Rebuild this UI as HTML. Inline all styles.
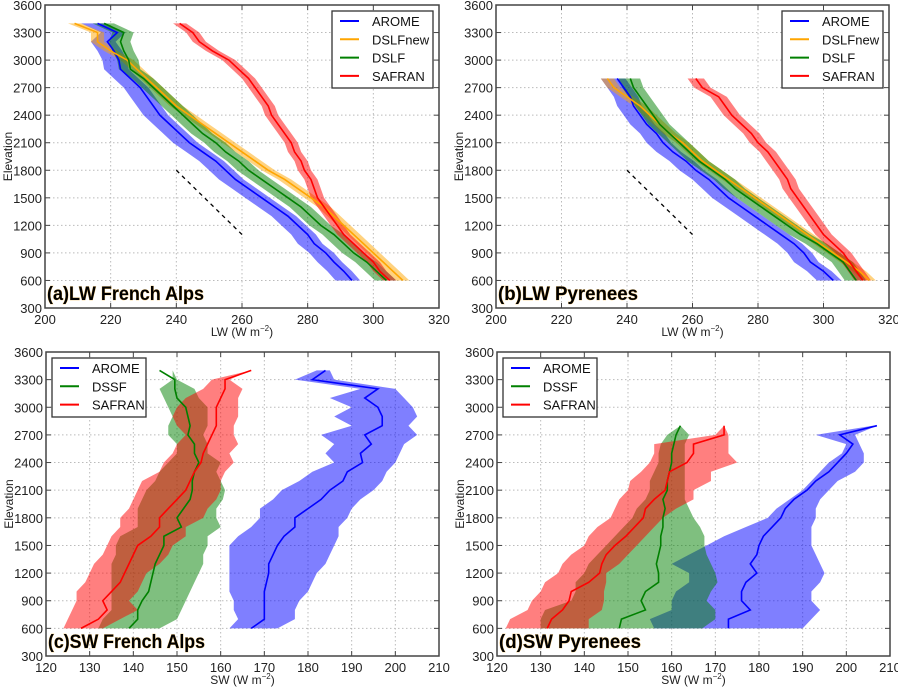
<!DOCTYPE html>
<html><head><meta charset="utf-8"><style>
body{margin:0;background:#fff;width:898px;height:687px;overflow:hidden}
svg{display:block;font-family:"Liberation Sans",sans-serif}
</style></head><body>
<svg id="fig" width="898" height="687"></svg>
<script>
// ---- data ----
const elevA=[600,700,800,900,1000,1100,1200,1300,1400,1500,1600,1700,1800,1900,2000,2100,2200,2300,2400,2500,2600,2700,2800,2900,3000,3100,3200,3300,3400];
const elevB=[600,700,800,900,1000,1100,1200,1300,1400,1500,1600,1700,1800,1900,2000,2100,2200,2300,2400,2500,2600,2700,2800];
// (a) LW French Alps
const aArome=[293.5,291,288,285.5,282,280,277,274,270,266,262,258,255,252,248,244,241,238,235,233,231,229,226,223,222.5,221,219,222,216];
const aDslfnew=[309,306,303,300,297,294,291,288,285,281,277,273,268,264,260,256,252,248,244,240,237,234,231,228,225,220,216,216,209];
const aDslf=[304,301,298,294,291,288,284,281,278,274,270,266,262,259,255,252,248,245,242,239,236,233,230,226,225.5,224,223,224,218];
const aSafran=[305,302,300,297,294,291,289,287,285,283,282,281,279,278,276,275,273,271,269,268,266,264,262,259,256,251,247,245,241];
// (b) LW Pyrenees
const bArome=[303,300,296,294,291,287,283,279,275,271,268,265,261,258,254,251,249,246,244,242,241,239,237];
const bDslfnew=[314,311,307,303,299,295,291,287,283,279,275,271,267,263,260,257,253,250,247,244,240,236,234];
const bDslf=[310,308,306,302,298,293,289,285,281,277,273,270,266,262,259,256,253,250,248,246,244,242,241];
const bSafran=[312,310,308,306,303,300,298,296,294,292,290,289,287,285,283,280,278,275,272,270,268,263,261];
// (c) SW French Alps
const cArome=[167,170,170,170,170,170.5,171,171,172,173,174.5,177,177,180,183,185,188,189,192.5,192,194.5,193,197,197,196,193,196,181,184];
const cAromeLo=[162,164,163,163,162,162,162,162,162,162,164,167,169,169,172,174,178,181,186,184,186,183,190,186,190,185,192,177,182];
const cAromeHi=[173,177,177,178,180,181,182,184,185,186,187,187,189,190,192,195,197,198,200,201,202,205,203,205,204,202,200,186,185];
const cDssf=[139,141,141,142,143.5,144,144.5,145,146,147,147,151,150,151.5,153,153.5,153.5,154,155,154,154,152.5,153,152.5,152,150,149.5,149.5,146];
const cDssfLo=[132,133,135,135,135,135,135,135,136,136,137,141,141,141,142,143,145,146,148,150,150,148,148,149,148,147,146,149,149];
const cDssfHi=[146,150,151,152,153,154,155,156,156,157,157,160,159,159,160.5,161,160,159,160,157,157,156,157,157,157,155,154,150,149];
const cSafran=[128,132,134,133,135,137,138,139,140,141,144,146,146,148,150,152,153,154,155.5,156,157,158,159,159,159,160,161,161,167];
const cSafranLo=[124,125,126,127,127,129,130,131,133,134,135,137,137,139,140,141,142,146,147,149,150,152,150,149,150,152,156,158,167];
const cSafranHi=[133,137,141,139,141,142,143,146,148,149,152,152,156,157,159,160,160,161,163,162,164,163,163,164,164,164,165,162,167];
// (d) SW Pyrenees
const dArome=[173,173,178,176,176,177,179.5,178,179.5,180,181,183,185,186,188,191,193,196,198,200,201.5,198.5,207];
const dAromeLo=[156,155,160,160,161,164,164,160,164,168,172,177,182,184,187,190,192,194,196,199,200,193,206];
const dAromeHi=[190,192,194,192,192,194,195,194,193,192,192,192,193,193,194,196,198,202,204,204,203,202,207];
const dDssf=[148,148.5,154,153,154,157,157,156.5,157,157.5,157.5,158,158,158.5,158,159,159,159.5,160,160,160.5,161,162];
const dDssfLo=[130,130,131,137,138,138,140,141,143,145,147,149,151,152,154,155,155,156,157,157,157.5,159,162];
const dDssfHi=[167,170,170,168,169,170.5,170,169,168,167.5,167.5,166.5,165,164,163,163,163,163,163,163,163,164,162];
const dSafran=[131.5,132.5,135,136.5,137,141,143.5,144,145,147,149.5,151.5,153.5,154,156,158.5,159,159.5,163.5,165,165,172,172];
const dSafranLo=[122,123,127,128,130,131,134,135,137,140,141,143,146,147,148,150,150.5,153,155,156,156,170,172];
const dSafranHi=[141,141,144,144.5,144.5,145,145,148,150,152,154,156,158,161,165,165,169,169,175,173,173,173,172];
const yTicks=[300,600,900,1200,1500,1800,2100,2400,2700,3000,3300,3600];
const lwTicks=[200,220,240,260,280,300,320];
const swTicks=[120,130,140,150,160,170,180,190,200,210];
const dashX=[240,260], dashY=[1800,1100];

const NS="http://www.w3.org/2000/svg";
const fig=document.getElementById('fig');
function mk(tag,attrs,parent){const e=document.createElementNS(NS,tag);for(const k in attrs)e.setAttribute(k,attrs[k]);(parent||fig).appendChild(e);return e;}
const COL={AROME:'#0000ff',DSLFnew:'#ffa500',DSLF:'#008000',DSSF:'#008000',SAFRAN:'#ff0000'};

function panel(cfg){
  const g=mk('g',{});
  
  
  const X=v=>cfg.l+(v-cfg.xmin)/(cfg.xmax-cfg.xmin)*(cfg.r-cfg.l);
  const Y=v=>cfg.b-(v-300)/(3600-300)*(cfg.b-cfg.t);
  cfg.xt.forEach(v=>{const l=mk('line',{x1:X(v),x2:X(v),y1:cfg.t,y2:cfg.b,stroke:'#bbb','stroke-dasharray':'1.5,2.5'},g);});
  yTicks.forEach(v=>{const l=mk('line',{x1:cfg.l,x2:cfg.r,y1:Y(v),y2:Y(v),stroke:'#bbb','stroke-dasharray':'1.5,2.5'},g);});
  cfg.series.forEach(s=>{
    let pts=s.elev.map((e,i)=>X(s.lo[i])+','+Y(e));
    for(let i=s.elev.length-1;i>=0;i--)pts.push(X(s.hi[i])+','+Y(s.elev[i]));
    const p=mk('polygon',{points:pts.join(' '),fill:COL[s.name],'fill-opacity':0.5,stroke:'none'},g);
    
    
  });
  cfg.series.forEach(s=>{
    const p=mk('polyline',{points:s.elev.map((e,i)=>X(s.v[i])+','+Y(e)).join(' '),fill:'none',stroke:COL[s.name],'stroke-width':1.6},g);
    
    
  });
  if(cfg.dash){const d=mk('line',{x1:X(dashX[0]),y1:Y(dashY[0]),x2:X(dashX[1]),y2:Y(dashY[1]),stroke:'#000','stroke-width':1.3,'stroke-dasharray':'4,4'},g);}
  const fr=mk('rect',{x:cfg.l,y:cfg.t,width:cfg.r-cfg.l,height:cfg.b-cfg.t,fill:'none',stroke:'#444','stroke-width':1.5},g);
  
  cfg.xt.forEach(v=>{
    mk('line',{x1:X(v),x2:X(v),y1:cfg.b,y2:cfg.b-5,stroke:'#444'},g);mk('line',{x1:X(v),x2:X(v),y1:cfg.t,y2:cfg.t+5,stroke:'#444'},g);
    const t=mk('text',{x:X(v),y:cfg.b+16,'text-anchor':'middle','font-size':13,fill:'#222'},g);t.textContent=v;
    
  });
  yTicks.forEach(v=>{
    mk('line',{x1:cfg.l,x2:cfg.l+5,y1:Y(v),y2:Y(v),stroke:'#444'},g);mk('line',{x1:cfg.r,x2:cfg.r-5,y1:Y(v),y2:Y(v),stroke:'#444'},g);
    const t=mk('text',{x:cfg.l-3,y:Y(v)+5,'text-anchor':'end','font-size':13,fill:'#222'},g);t.textContent=v;
    
  });
  const xt=mk('text',{x:(cfg.l+cfg.r)/2,y:cfg.b+28,'text-anchor':'middle','font-size':12,fill:'#222'},g);
  xt.innerHTML=cfg.xl+' (W m<tspan dy="-5" font-size="8">\u22122</tspan><tspan dy="5">)</tspan>';
  
  const yt=mk('text',{x:0,y:0,transform:`translate(${cfg.l-33},${(cfg.t+cfg.b)/2}) rotate(-90)`,'text-anchor':'middle','font-size':12,fill:'#222'},g);
  yt.textContent='Elevation';
  const pl=mk('text',{x:cfg.l+2,y:cfg.b-8,'font-size':19,'font-weight':'bold',fill:'#000',stroke:'#f5c060','stroke-width':0.6,'paint-order':'stroke',textLength:cfg.lw,lengthAdjust:'spacingAndGlyphs'},g);
  pl.textContent=cfg.label;
  const L=cfg.leg;const lg=mk('g',{},g);
  mk('rect',{x:L.x,y:L.y,width:L.w,height:L.h,fill:'#fff',stroke:'#333','stroke-width':1.3},lg);
  cfg.series.forEach((s,i)=>{
    const yy=L.y+10+i*18.3;
    const e=mk('g',{},lg);
    mk('line',{x1:L.x+8,x2:L.x+27,y1:yy,y2:yy,stroke:COL[s.name],'stroke-width':2},e);
    const t=mk('text',{x:L.x+40,y:yy+5,'font-size':13,fill:'#111'},e);t.textContent=s.name;
  });
}
const sp=(a,d)=>a.map(v=>v-d), sm=(a,d)=>a.map(v=>v+d);
panel({id:'panel-a',l:45,r:439,t:5,b:308,xmin:200,xmax:320,xt:lwTicks,xl:'LW',label:'(a)LW French Alps',lw:157,dash:true,
 leg:{x:332,y:11,w:101,h:77},
 series:[{name:'AROME',elev:elevA,v:aArome,lo:sp(aArome,5),hi:sm(aArome,2.5)},
 {name:'DSLFnew',elev:elevA,v:aDslfnew,lo:sp(aDslfnew,2),hi:sm(aDslfnew,2)},
 {name:'DSLF',elev:elevA,v:aDslf,lo:sp(aDslf,3.5),hi:sm(aDslf,3)},
 {name:'SAFRAN',elev:elevA,v:aSafran,lo:sp(aSafran,2),hi:sm(aSafran,2)}]});
panel({id:'panel-b',l:496,r:889,t:5,b:308,xmin:200,xmax:320,xt:lwTicks,xl:'LW',label:'(b)LW Pyrenees',lw:140,dash:true,
 leg:{x:782,y:11,w:101,h:77},
 series:[{name:'AROME',elev:elevB,v:bArome,lo:sp(bArome,5),hi:sm(bArome,2.5)},
 {name:'DSLFnew',elev:elevB,v:bDslfnew,lo:sp(bDslfnew,2),hi:sm(bDslfnew,2)},
 {name:'DSLF',elev:elevB,v:bDslf,lo:sp(bDslf,3.5),hi:sm(bDslf,3)},
 {name:'SAFRAN',elev:elevB,v:bSafran,lo:sp(bSafran,2.5),hi:sm(bSafran,2.5)}]});
panel({id:'panel-c',l:46,r:439,t:352,b:656,xmin:120,xmax:210,xt:swTicks,xl:'SW',label:'(c)SW French Alps',lw:157,dash:false,
 leg:{x:52,y:358,w:94,h:59},
 series:[{name:'AROME',elev:elevA,v:cArome,lo:cAromeLo,hi:cAromeHi},
 {name:'DSSF',elev:elevA,v:cDssf,lo:cDssfLo,hi:cDssfHi},
 {name:'SAFRAN',elev:elevA,v:cSafran,lo:cSafranLo,hi:cSafranHi}]});
panel({id:'panel-d',l:497,r:890,t:352,b:656,xmin:120,xmax:210,xt:swTicks,xl:'SW',label:'(d)SW Pyrenees',lw:142,dash:false,
 leg:{x:503,y:358,w:94,h:59},
 series:[{name:'AROME',elev:elevB,v:dArome,lo:dAromeLo,hi:dAromeHi},
 {name:'DSSF',elev:elevB,v:dDssf,lo:dDssfLo,hi:dDssfHi},
 {name:'SAFRAN',elev:elevB,v:dSafran,lo:dSafranLo,hi:dSafranHi}]});
</script>
</body></html>
